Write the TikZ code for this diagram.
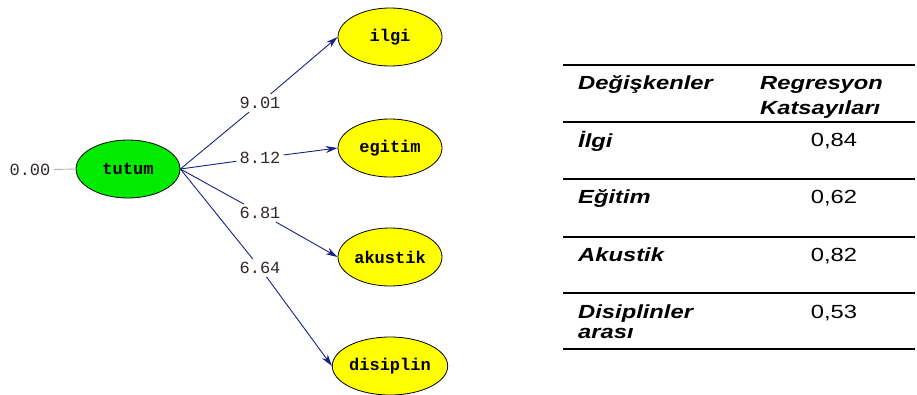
\documentclass[tikz,border=0pt]{standalone}
\usepackage{fontspec}
\setmainfont{Liberation Sans}
\newfontfamily\monof{Liberation Mono}
\usetikzlibrary{shapes.geometric,arrows.meta}
\definecolor{pathblue}{RGB}{24,32,135}
\definecolor{ellyellow}{RGB}{255,255,0}
\definecolor{ellgreen}{RGB}{0,235,0}
\definecolor{numcol}{RGB}{50,40,40}
\newcommand{\wx}[1]{\scalebox{1.25}[1]{#1}}
\tikzset{
  latent/.style={ellipse, draw=black, line width=0.8pt, fill=ellgreen, minimum width=104pt, minimum height=58pt, inner sep=0pt, font=\monof\bfseries\fontsize{17}{20}\selectfont},
  observed/.style={ellipse, draw=black, line width=0.8pt, fill=ellyellow, minimum width=104pt, minimum height=58pt, inner sep=0pt, font=\monof\bfseries\fontsize{17}{20}\selectfont},
  coef/.style={inner sep=3pt, text=numcol, font=\monof\fontsize{17}{20}\selectfont},
  path/.style={draw=pathblue, line width=0.9pt},
  patharrow/.style={draw=pathblue, line width=0.9pt, -{Stealth[length=12pt,width=7pt]}},
  tabhead/.style={anchor=base west, inner sep=0pt, font=\fontsize{19}{22}\selectfont\bfseries\itshape},
  tabnum/.style={anchor=base, inner sep=0pt, font=\fontsize{19}{22}\selectfont},
  tabrule/.style={line width=1.8pt}
}
\begin{document}
\begin{tikzpicture}[x=1pt,y=-1pt]
\useasboundingbox (0,0) rectangle (917,394);
% diagram
\node[latent] (tutum) at (128,169) {tutum};
\node[observed] (ilgi) at (390,37) {ilgi};
\node[observed] (egitim) at (390,148) {egitim};
\node[observed] (akustik) at (390,257) {akustik};
\node[observed] (disiplin) at (390,366) {disiplin};
\node[coef] (zero) at (30,170) {0.00};
\draw[gray!60, line width=0.9pt] (zero) -- (tutum.west);
\node[coef] (c1) at (260,103) {9.01};
\node[coef] (c2) at (260,158) {8.12};
\node[coef] (c3) at (260,213) {6.81};
\node[coef] (c4) at (260,268) {6.64};
\coordinate (o) at (tutum.east);
\draw[path] (o) -- (c1);
\draw[patharrow] (c1) -- (ilgi.west);
\draw[path] (o) -- (c2);
\draw[patharrow] (c2) -- (egitim.west);
\draw[path] (o) -- (c3);
\draw[patharrow] (c3) -- (akustik.west);
\draw[path] (o) -- (c4);
\draw[patharrow] (c4) -- (disiplin.west);
% table
\draw[tabrule] (563,65) -- (915,65);
\draw[tabrule] (563,122) -- (915,122);
\draw[tabrule] (563,179) -- (915,179);
\draw[tabrule] (563,237) -- (915,237);
\draw[tabrule] (563,293) -- (915,293);
\draw[tabrule] (563,349) -- (915,349);
\node[tabhead] (h1) at (578,89) {\wx{Değişkenler}};
\node[tabhead] (h2a) at (760,89) {\wx{Regresyon}};
\node[tabhead] (h2b) at (760,114) {\wx{Katsayıları}};
\node[tabhead] (r1) at (578,147) {\wx{İlgi}};
\node[tabnum] (v1) at (834,146) {\wx{0,84}};
\node[tabhead] (r2) at (578,203) {\wx{Eğitim}};
\node[tabnum] (v2) at (834,203) {\wx{0,62}};
\node[tabhead] (r3) at (578,261) {\wx{Akustik}};
\node[tabnum] (v3) at (834,261) {\wx{0,82}};
\node[tabhead] (r4a) at (578,318) {\wx{Disiplinler}};
\node[tabhead] (r4b) at (578,338) {\wx{arası}};
\node[tabnum] (v4) at (834,318) {\wx{0,53}};
\end{tikzpicture}
\end{document}
